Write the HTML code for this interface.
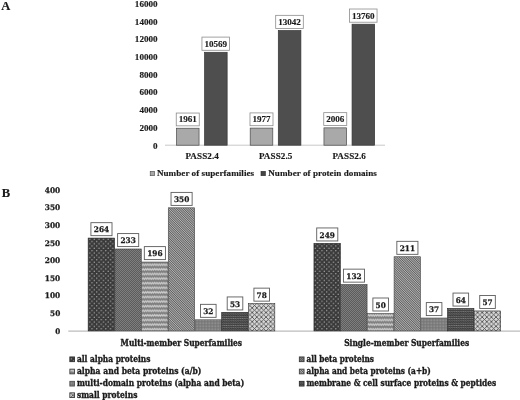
<!DOCTYPE html>
<html><head><meta charset="utf-8"><title>Figure</title>
<style>
html,body{margin:0;padding:0;background:#fff;}
body{width:520px;height:400px;overflow:hidden;}
svg{display:block;}
.t{font-family:"Liberation Serif",serif;font-weight:bold;fill:#1a1a1a;stroke:#1a1a1a;stroke-width:0.15;}
.d{font-family:"DejaVu Serif","Liberation Serif",serif;font-weight:bold;fill:#1a1a1a;stroke:#1a1a1a;stroke-width:0.25;}
.c{font-family:"DejaVu Serif Condensed","DejaVu Serif","Liberation Serif",serif;font-weight:bold;fill:#1a1a1a;stroke:#1a1a1a;stroke-width:0.3;}
</style></head><body>
<svg width="520" height="400" viewBox="0 0 520 400">
<defs>
<pattern id="p1" width="4.6" height="4.6" patternUnits="userSpaceOnUse" x="88.6" y="238"><rect width="4.6" height="4.6" fill="#3a3a3a"/><circle cx="1.15" cy="1.15" r="0.68" fill="#b4b4b4"/><circle cx="3.45" cy="3.45" r="0.68" fill="#b4b4b4"/></pattern>
<pattern id="p2" width="2" height="2" patternUnits="userSpaceOnUse"><rect width="2" height="2" fill="#5c5c5c"/><rect width="1" height="1" fill="#7e7e7e"/><rect x="1" y="1" width="1" height="1" fill="#7e7e7e"/></pattern>
<pattern id="p3" width="2.3" height="4.6" patternUnits="userSpaceOnUse" y="0.4"><rect width="2.3" height="4.6" fill="#7e7e7e"/><path d="M-0.575 2.9 L0.575 1.5 L1.725 2.9 L2.875 1.5" stroke="#cacaca" stroke-width="1.3" fill="none"/></pattern>
<pattern id="p4" width="1.64" height="1.64" patternUnits="userSpaceOnUse" patternTransform="rotate(-45)"><rect width="1.64" height="1.64" fill="#b4b4b4"/><rect width="0.82" height="1.64" fill="#5e5e5e"/></pattern>
<pattern id="p5" width="1.5" height="1.5" patternUnits="userSpaceOnUse"><rect width="1.5" height="1.5" fill="#969696"/><rect width="1.5" height="0.6" fill="#747474"/><rect width="0.6" height="1.5" fill="#747474"/></pattern>
<pattern id="p6" width="2.3" height="2.3" patternUnits="userSpaceOnUse"><rect width="2.3" height="2.3" fill="#383838"/><path d="M-0.575 1.75 L0.575 0.6 L1.725 1.75 L2.875 0.6" stroke="#8e8e8e" stroke-width="0.7" fill="none"/></pattern>
<pattern id="p7" width="4.6" height="4.6" patternUnits="userSpaceOnUse" x="247.6" y="303.3"><rect width="4.6" height="4.6" fill="#d6d6d6"/><path d="M-1 -1 L5.6 5.6 M5.6 -1 L-1 5.6 M-1 3.6 L1 5.6 M3.6 -1 L5.6 1 M-1 1 L1 -1 M3.6 5.6 L5.6 3.6" stroke="#4c4c4c" stroke-width="0.85" fill="none"/></pattern>
</defs>
<rect width="520" height="400" fill="#fff"/>

<text class="t" x="1.2" y="10.4" font-size="12.5" stroke="#1a1a1a" stroke-width="0.2">A</text>
<text class="t" x="1.7" y="196.8" font-size="12.6" stroke="#1a1a1a" stroke-width="0.2">B</text>
<text class="t" x="157.6" y="148.50" font-size="9.1" text-anchor="end">0</text>
<text class="t" x="157.6" y="130.80" font-size="9.1" text-anchor="end">2000</text>
<text class="t" x="157.6" y="113.10" font-size="9.1" text-anchor="end">4000</text>
<text class="t" x="157.6" y="95.40" font-size="9.1" text-anchor="end">6000</text>
<text class="t" x="157.6" y="77.70" font-size="9.1" text-anchor="end">8000</text>
<text class="t" x="157.6" y="60.00" font-size="9.1" text-anchor="end">10000</text>
<text class="t" x="157.6" y="42.30" font-size="9.1" text-anchor="end">12000</text>
<text class="t" x="157.6" y="24.60" font-size="9.1" text-anchor="end">14000</text>
<text class="t" x="157.6" y="6.90" font-size="9.1" text-anchor="end">16000</text>
<line x1="165" y1="145.2" x2="385" y2="145.2" stroke="#c8c8c8" stroke-width="1"/>
<rect x="176.45" y="128.24" width="22.6" height="16.96" fill="#a9a9a9" stroke="#4a4a4a" stroke-width="0.7"/>
<rect x="204.55" y="52.29" width="22.6" height="92.91" fill="#4e4e4e" stroke="#363636" stroke-width="0.7"/>
<rect x="176.25" y="113.04" width="23.00" height="12.80" fill="#fff" stroke="#8c8c8c" stroke-width="0.8"/>
<text class="t" x="187.75" y="122.45" font-size="9.1" text-anchor="middle">1961</text>
<rect x="201.95" y="37.09" width="27.60" height="13.20" fill="#fff" stroke="#8c8c8c" stroke-width="0.8"/>
<text class="t" x="215.75" y="46.70" font-size="9.1" text-anchor="middle">10569</text>
<text class="t" x="202.10" y="158.9" font-size="9.1" text-anchor="middle" textLength="33.4" lengthAdjust="spacing">PASS2.4</text>
<rect x="250.20" y="128.10" width="22.6" height="17.10" fill="#a9a9a9" stroke="#4a4a4a" stroke-width="0.7"/>
<rect x="278.30" y="30.53" width="22.6" height="114.67" fill="#4e4e4e" stroke="#363636" stroke-width="0.7"/>
<rect x="250.00" y="112.90" width="23.00" height="12.80" fill="#fff" stroke="#8c8c8c" stroke-width="0.8"/>
<text class="t" x="261.50" y="122.31" font-size="9.1" text-anchor="middle">1977</text>
<rect x="275.70" y="15.33" width="27.60" height="13.20" fill="#fff" stroke="#8c8c8c" stroke-width="0.8"/>
<text class="t" x="289.50" y="24.93" font-size="9.1" text-anchor="middle">13042</text>
<text class="t" x="275.60" y="158.9" font-size="9.1" text-anchor="middle" textLength="33.4" lengthAdjust="spacing">PASS2.5</text>
<rect x="323.95" y="127.85" width="22.6" height="17.35" fill="#a9a9a9" stroke="#4a4a4a" stroke-width="0.7"/>
<rect x="352.05" y="24.21" width="22.6" height="120.99" fill="#4e4e4e" stroke="#363636" stroke-width="0.7"/>
<rect x="323.75" y="112.65" width="23.00" height="12.80" fill="#fff" stroke="#8c8c8c" stroke-width="0.8"/>
<text class="t" x="335.25" y="122.05" font-size="9.1" text-anchor="middle">2006</text>
<rect x="349.45" y="9.01" width="27.60" height="13.20" fill="#fff" stroke="#8c8c8c" stroke-width="0.8"/>
<text class="t" x="363.25" y="18.61" font-size="9.1" text-anchor="middle">13760</text>
<text class="t" x="349.10" y="158.9" font-size="9.1" text-anchor="middle" textLength="33.4" lengthAdjust="spacing">PASS2.6</text>
<rect x="150.2" y="171.3" width="4.4" height="4.4" fill="#a8a8a8" stroke="#4a4a4a" stroke-width="0.6"/>
<text class="t" x="156.9" y="176.3" font-size="9.1" textLength="97.2" lengthAdjust="spacing">Number of superfamilies</text>
<rect x="261" y="171.3" width="4.4" height="4.4" fill="#454545" stroke="#2c2c2c" stroke-width="0.6"/>
<text class="t" x="268.2" y="176.3" font-size="9.1" textLength="108.6" lengthAdjust="spacing">Number of protein domains</text>
<text class="d" x="60.3" y="333.60" font-size="7.7" text-anchor="end" textLength="5.0" lengthAdjust="spacingAndGlyphs">0</text>
<text class="d" x="60.3" y="316.00" font-size="7.7" text-anchor="end" textLength="10.2" lengthAdjust="spacingAndGlyphs">50</text>
<text class="d" x="60.3" y="298.40" font-size="7.7" text-anchor="end" textLength="15.5" lengthAdjust="spacingAndGlyphs">100</text>
<text class="d" x="60.3" y="280.80" font-size="7.7" text-anchor="end" textLength="15.5" lengthAdjust="spacingAndGlyphs">150</text>
<text class="d" x="60.3" y="263.20" font-size="7.7" text-anchor="end" textLength="15.5" lengthAdjust="spacingAndGlyphs">200</text>
<text class="d" x="60.3" y="245.60" font-size="7.7" text-anchor="end" textLength="15.5" lengthAdjust="spacingAndGlyphs">250</text>
<text class="d" x="60.3" y="228.00" font-size="7.7" text-anchor="end" textLength="15.5" lengthAdjust="spacingAndGlyphs">300</text>
<text class="d" x="60.3" y="210.40" font-size="7.7" text-anchor="end" textLength="15.5" lengthAdjust="spacingAndGlyphs">350</text>
<text class="d" x="60.3" y="192.80" font-size="7.7" text-anchor="end" textLength="15.5" lengthAdjust="spacingAndGlyphs">400</text>
<line x1="68.3" y1="331.1" x2="520" y2="331.1" stroke="#bcbcbc" stroke-width="1.1"/>
<rect x="88.15" y="238.07" width="26.41" height="92.83" fill="url(#p1)" stroke="#222" stroke-width="0.6"/>
<rect x="114.86" y="248.98" width="26.41" height="81.92" fill="url(#p2)" stroke="#3c3c3c" stroke-width="0.6"/>
<rect x="141.57" y="262.01" width="26.41" height="68.89" fill="url(#p3)" stroke="#505050" stroke-width="0.6"/>
<rect x="168.28" y="207.80" width="26.41" height="123.10" fill="url(#p4)" stroke="#444" stroke-width="0.6"/>
<rect x="194.99" y="319.74" width="26.41" height="11.16" fill="url(#p5)" stroke="#5a5a5a" stroke-width="0.6"/>
<rect x="221.70" y="312.34" width="26.41" height="18.56" fill="url(#p6)" stroke="#222" stroke-width="0.6"/>
<rect x="248.41" y="303.54" width="26.41" height="27.36" fill="url(#p7)" stroke="#333" stroke-width="0.6"/>
<rect x="90.91" y="222.67" width="21.10" height="13.00" fill="#fff" stroke="#5c5c5c" stroke-width="0.9"/>
<text class="d" x="101.45" y="232.32" font-size="7.7" text-anchor="middle" textLength="15.4" lengthAdjust="spacingAndGlyphs">264</text>
<rect x="117.61" y="233.58" width="21.10" height="13.00" fill="#fff" stroke="#5c5c5c" stroke-width="0.9"/>
<text class="d" x="128.16" y="243.23" font-size="7.7" text-anchor="middle" textLength="15.4" lengthAdjust="spacingAndGlyphs">233</text>
<rect x="144.32" y="246.61" width="21.10" height="13.00" fill="#fff" stroke="#5c5c5c" stroke-width="0.9"/>
<text class="d" x="154.88" y="256.26" font-size="7.7" text-anchor="middle" textLength="15.4" lengthAdjust="spacingAndGlyphs">196</text>
<rect x="171.03" y="192.40" width="21.10" height="13.00" fill="#fff" stroke="#5c5c5c" stroke-width="0.9"/>
<text class="d" x="181.58" y="202.05" font-size="7.7" text-anchor="middle" textLength="15.4" lengthAdjust="spacingAndGlyphs">350</text>
<rect x="200.49" y="304.34" width="15.60" height="13.00" fill="#fff" stroke="#5c5c5c" stroke-width="0.9"/>
<text class="d" x="208.29" y="313.99" font-size="7.7" text-anchor="middle" textLength="10.2" lengthAdjust="spacingAndGlyphs">32</text>
<rect x="227.20" y="296.94" width="15.60" height="13.00" fill="#fff" stroke="#5c5c5c" stroke-width="0.9"/>
<text class="d" x="235.00" y="306.59" font-size="7.7" text-anchor="middle" textLength="10.2" lengthAdjust="spacingAndGlyphs">53</text>
<rect x="253.92" y="288.14" width="15.60" height="13.00" fill="#fff" stroke="#5c5c5c" stroke-width="0.9"/>
<text class="d" x="261.72" y="297.79" font-size="7.7" text-anchor="middle" textLength="10.2" lengthAdjust="spacingAndGlyphs">78</text>
<text class="c" x="120.6" y="345.8" font-size="8.3" textLength="121.5" lengthAdjust="spacingAndGlyphs">Multi-member Superfamilies</text>
<rect x="313.95" y="243.35" width="26.41" height="87.55" fill="url(#p1)" stroke="#222" stroke-width="0.6"/>
<rect x="340.66" y="284.54" width="26.41" height="46.36" fill="url(#p2)" stroke="#3c3c3c" stroke-width="0.6"/>
<rect x="367.37" y="313.40" width="26.41" height="17.50" fill="url(#p3)" stroke="#505050" stroke-width="0.6"/>
<rect x="394.08" y="256.73" width="26.41" height="74.17" fill="url(#p4)" stroke="#444" stroke-width="0.6"/>
<rect x="420.79" y="317.98" width="26.41" height="12.92" fill="url(#p5)" stroke="#5a5a5a" stroke-width="0.6"/>
<rect x="447.50" y="308.47" width="26.41" height="22.43" fill="url(#p6)" stroke="#222" stroke-width="0.6"/>
<rect x="474.21" y="310.94" width="26.41" height="19.96" fill="url(#p7)" stroke="#333" stroke-width="0.6"/>
<rect x="316.71" y="227.95" width="21.10" height="13.00" fill="#fff" stroke="#5c5c5c" stroke-width="0.9"/>
<text class="d" x="327.26" y="237.60" font-size="7.7" text-anchor="middle" textLength="15.4" lengthAdjust="spacingAndGlyphs">249</text>
<rect x="343.42" y="269.14" width="21.10" height="13.00" fill="#fff" stroke="#5c5c5c" stroke-width="0.9"/>
<text class="d" x="353.97" y="278.79" font-size="7.7" text-anchor="middle" textLength="15.4" lengthAdjust="spacingAndGlyphs">132</text>
<rect x="372.88" y="298.00" width="15.60" height="13.00" fill="#fff" stroke="#5c5c5c" stroke-width="0.9"/>
<text class="d" x="380.68" y="307.65" font-size="7.7" text-anchor="middle" textLength="10.2" lengthAdjust="spacingAndGlyphs">50</text>
<rect x="396.84" y="241.33" width="21.10" height="13.00" fill="#fff" stroke="#5c5c5c" stroke-width="0.9"/>
<text class="d" x="407.39" y="250.98" font-size="7.7" text-anchor="middle" textLength="15.4" lengthAdjust="spacingAndGlyphs">211</text>
<rect x="426.30" y="302.58" width="15.60" height="13.00" fill="#fff" stroke="#5c5c5c" stroke-width="0.9"/>
<text class="d" x="434.10" y="312.23" font-size="7.7" text-anchor="middle" textLength="10.2" lengthAdjust="spacingAndGlyphs">37</text>
<rect x="453.01" y="293.07" width="15.60" height="13.00" fill="#fff" stroke="#5c5c5c" stroke-width="0.9"/>
<text class="d" x="460.81" y="302.72" font-size="7.7" text-anchor="middle" textLength="10.2" lengthAdjust="spacingAndGlyphs">64</text>
<rect x="479.72" y="295.54" width="15.60" height="13.00" fill="#fff" stroke="#5c5c5c" stroke-width="0.9"/>
<text class="d" x="487.52" y="305.19" font-size="7.7" text-anchor="middle" textLength="10.2" lengthAdjust="spacingAndGlyphs">57</text>
<text class="c" x="344.2" y="345.8" font-size="8.3" textLength="125" lengthAdjust="spacingAndGlyphs">Single-member Superfamilies</text>
<rect x="69.85" y="356.95" width="4.7" height="4.7" fill="url(#p1)" stroke="#2e2e2e" stroke-width="0.9"/>
<text class="c" x="76.90" y="361.90" font-size="8.3" textLength="73.5" lengthAdjust="spacingAndGlyphs">all alpha proteins</text>
<rect x="299.35" y="356.95" width="4.7" height="4.7" fill="url(#p2)" stroke="#3a3a3a" stroke-width="0.9"/>
<text class="c" x="306.40" y="361.90" font-size="8.3" textLength="67.6" lengthAdjust="spacingAndGlyphs">all beta proteins</text>
<rect x="69.85" y="369.15" width="4.7" height="4.7" fill="url(#p3)" stroke="#444" stroke-width="0.9"/>
<text class="c" x="76.90" y="374.10" font-size="8.3" textLength="124.5" lengthAdjust="spacingAndGlyphs">alpha and beta proteins (a/b)</text>
<rect x="299.35" y="369.15" width="4.7" height="4.7" fill="url(#p4)" stroke="#444" stroke-width="0.9"/>
<text class="c" x="306.40" y="374.10" font-size="8.3" textLength="124.4" lengthAdjust="spacingAndGlyphs">alpha and beta proteins (a+b)</text>
<rect x="69.85" y="381.35" width="4.7" height="4.7" fill="url(#p5)" stroke="#555" stroke-width="0.9"/>
<text class="c" x="76.90" y="386.30" font-size="8.3" textLength="167.4" lengthAdjust="spacingAndGlyphs">multi-domain proteins (alpha and beta)</text>
<rect x="299.35" y="381.35" width="4.7" height="4.7" fill="url(#p6)" stroke="#2e2e2e" stroke-width="0.9"/>
<text class="c" x="306.40" y="386.30" font-size="8.3" textLength="189.8" lengthAdjust="spacingAndGlyphs">membrane &amp; cell surface proteins &amp; peptides</text>
<rect x="69.85" y="392.85" width="4.7" height="4.7" fill="url(#p7)" stroke="#3a3a3a" stroke-width="0.9"/>
<text class="c" x="76.90" y="397.80" font-size="8.3" textLength="60.5" lengthAdjust="spacingAndGlyphs">small proteins</text>
</svg></body></html>
